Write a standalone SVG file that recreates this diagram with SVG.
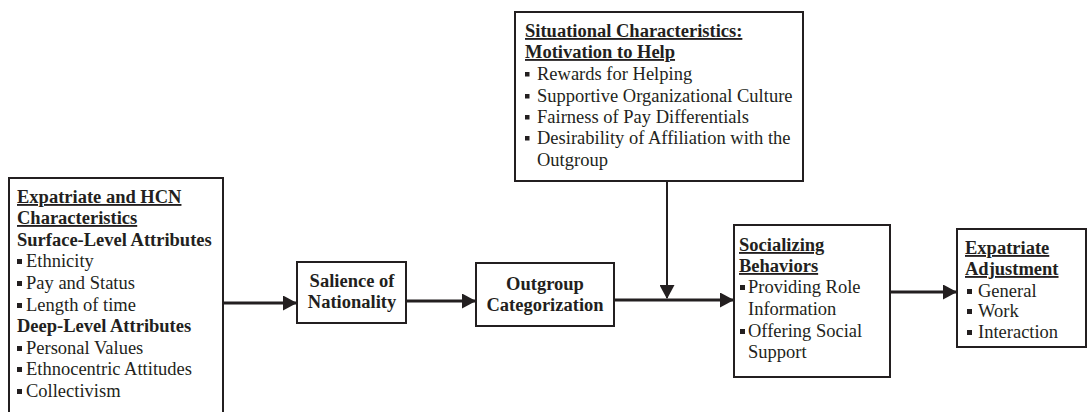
<svg xmlns="http://www.w3.org/2000/svg" width="1087" height="412" viewBox="0 0 1087 412">
<defs>
<style>
.box{fill:#fff;stroke:#231f20;stroke-width:2}
.b{font-weight:bold}
.u{font-weight:bold;text-decoration:underline}
.c{text-anchor:middle}
.bul{fill:#231f20}
.ln{stroke:#231f20;stroke-width:3;fill:none}
.lv{stroke:#231f20;stroke-width:2;fill:none}
</style>
<marker id="ah" markerWidth="14" markerHeight="15" refX="13" refY="7.5" orient="auto" markerUnits="userSpaceOnUse">
<path d="M0,0 L14,7.5 L0,15 Z" fill="#231f20"/>
</marker>
</defs>
<rect width="1087" height="412" fill="#fff"/>

<g id="connectors">
<line class="ln" x1="223" y1="303" x2="296" y2="303" marker-end="url(#ah)"/>
<line class="ln" x1="406" y1="301" x2="475" y2="301" marker-end="url(#ah)"/>
<line class="ln" x1="614" y1="300" x2="733" y2="300" marker-end="url(#ah)"/>
<line class="lv" x1="667" y1="181" x2="667" y2="298" marker-end="url(#ah)"/>
<line class="ln" x1="890" y1="292" x2="956" y2="292" marker-end="url(#ah)"/>
</g>

<g font-family="Liberation Serif, serif" font-size="18.5" fill="#231f20">
<g id="node-expatriate-hcn">
<rect class="box" x="9" y="178" width="214" height="250"/>
<text class="u" x="17" y="203">Expatriate and HCN</text>
<text class="u" x="17" y="224">Characteristics</text>
<text class="b" x="17" y="246">Surface-Level Attributes</text>
<rect class="bul" x="17" y="259" width="5" height="5"/>
<text x="26" y="267">Ethnicity</text>
<rect class="bul" x="17" y="281" width="5" height="5"/>
<text x="26" y="289">Pay and Status</text>
<rect class="bul" x="17" y="303" width="5" height="5"/>
<text x="26" y="311">Length of time</text>
<text class="b" x="17" y="332">Deep-Level Attributes</text>
<rect class="bul" x="17" y="346" width="5" height="5"/>
<text x="26" y="354">Personal Values</text>
<rect class="bul" x="17" y="367" width="5" height="5"/>
<text x="26" y="375">Ethnocentric Attitudes</text>
<rect class="bul" x="17" y="389" width="5" height="5"/>
<text x="26" y="397">Collectivism</text>
</g>

<g id="node-salience">
<rect class="box" x="297" y="262" width="109" height="61"/>
<text class="b c" x="352" y="287">Salience of</text>
<text class="b c" x="352" y="308">Nationality</text>
</g>

<g id="node-outgroup">
<rect class="box" x="476" y="263" width="138" height="63"/>
<text class="b c" x="545" y="290">Outgroup</text>
<text class="b c" x="545" y="311">Categorization</text>
</g>

<g id="node-situational">
<rect class="box" x="515" y="12" width="288" height="169"/>
<text class="u" x="525" y="37">Situational Characteristics:</text>
<text class="u" x="525" y="58">Motivation to Help</text>
<rect class="bul" x="525" y="72" width="4.5" height="4.5"/>
<text x="537" y="80">Rewards for Helping</text>
<rect class="bul" x="525" y="94" width="4.5" height="4.5"/>
<text x="537" y="102">Supportive Organizational Culture</text>
<rect class="bul" x="525" y="115" width="4.5" height="4.5"/>
<text x="537" y="123">Fairness of Pay Differentials</text>
<rect class="bul" x="525" y="136" width="4.5" height="4.5"/>
<text x="537" y="144">Desirability of Affiliation with the</text>
<text x="537" y="166">Outgroup</text>
</g>

<g id="node-socializing">
<rect class="box" x="734" y="225" width="156" height="152"/>
<text class="u" x="739" y="251">Socializing</text>
<text class="u" x="739" y="272">Behaviors</text>
<rect class="bul" x="740" y="285" width="5" height="5"/>
<text x="748" y="293">Providing Role</text>
<text x="748" y="315">Information</text>
<rect class="bul" x="740" y="329" width="5" height="5"/>
<text x="748" y="337">Offering Social</text>
<text x="748" y="358">Support</text>
</g>

<g id="node-adjustment">
<rect class="box" x="957" y="229" width="129" height="118"/>
<text class="u" x="965" y="254">Expatriate</text>
<text class="u" x="965" y="275">Adjustment</text>
<rect class="bul" x="967" y="289" width="5" height="5"/>
<text x="978" y="297">General</text>
<rect class="bul" x="967" y="309" width="5" height="5"/>
<text x="978" y="317">Work</text>
<rect class="bul" x="967" y="330" width="5" height="5"/>
<text x="978" y="338">Interaction</text>
</g>
</g>
</svg>
